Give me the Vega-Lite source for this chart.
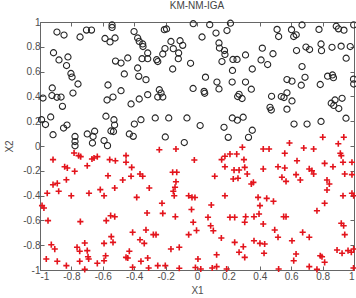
{
  "$schema": "https://vega.github.io/schema/vega-lite/v6.json",
  "width": 314,
  "height": 248,
  "autosize": "none",
  "padding": {"left": 40, "top": 22, "right": 2, "bottom": 28},
  "background": "white",
  "title": {"text": "KM-NM-IGA", "fontSize": 10, "font": "Liberation Sans", "fontWeight": "normal", "color": "#444", "offset": 6, "anchor": "middle"},
  "config": {
    "view": {"stroke": "#666", "strokeWidth": 1},
    "axis": {"grid": false, "domain": false, "tickColor": "#666", "tickSize": -4, "labelFont": "Liberation Sans", "labelFontSize": 10, "labelColor": "#4d4d4d", "titleFont": "Liberation Sans", "titleFontSize": 10, "titleFontWeight": "normal", "titleColor": "#4d4d4d"}
  },
  "datasets": {
    "circles": [
      {"x":-0.892,"y":0.919},{"x":-0.847,"y":0.895},{"x":-0.745,"y":0.879},{"x":-0.704,"y":0.935},{"x":-0.672,"y":0.935},
      {"x":-0.541,"y":0.976},{"x":-0.541,"y":0.956},{"x":-0.586,"y":0.867},{"x":-0.554,"y":0.839},{"x":-0.522,"y":0.871},
      {"x":-0.914,"y":0.752},{"x":-0.879,"y":0.694},{"x":-0.822,"y":0.718},{"x":-0.831,"y":0.649},{"x":-0.803,"y":0.585},
      {"x":-0.796,"y":0.556},{"x":-0.758,"y":0.5},{"x":-0.790,"y":0.427},{"x":-0.519,"y":0.685},{"x":-0.567,"y":0.492},
      {"x":-0.922,"y":0.468},{"x":-0.924,"y":0.407},{"x":-0.892,"y":0.393},{"x":-0.866,"y":0.395},{"x":-0.857,"y":0.320},
      {"x":-0.981,"y":0.387},{"x":-0.573,"y":0.371},{"x":-0.535,"y":0.395},{"x":-0.990,"y":0.212},{"x":-0.965,"y":0.173},
      {"x":-0.932,"y":0.234},{"x":-0.917,"y":0.091},{"x":-0.850,"y":0.145},{"x":-0.828,"y":0.169},{"x":-0.580,"y":0.240},
      {"x":-0.529,"y":0.212},{"x":-0.525,"y":0.169},{"x":-0.548,"y":0.121},{"x":-0.532,"y":0.117},{"x":-0.777,"y":0.077},
      {"x":-0.777,"y":0.036},{"x":-0.777,"y":0.002},{"x":-0.699,"y":0.097},{"x":-0.652,"y":0.119},{"x":-0.662,"y":0.077},
      {"x":-0.666,"y":0.024},{"x":-0.592,"y":0.044},{"x":-0.570,"y":0.003},{"x":-0.401,"y":0.923},{"x":-0.208,"y":0.938},
      {"x":-0.194,"y":0.944},{"x":-0.024,"y":0.986},{"x":-0.378,"y":0.871},{"x":-0.368,"y":0.844},{"x":-0.346,"y":0.823},
      {"x":-0.344,"y":0.802},{"x":-0.314,"y":0.75},{"x":-0.350,"y":0.704},{"x":-0.314,"y":0.704},{"x":-0.257,"y":0.696},
      {"x":-0.250,"y":0.681},{"x":-0.218,"y":0.742},{"x":-0.204,"y":0.786},{"x":-0.166,"y":0.843},{"x":-0.151,"y":0.785},
      {"x":-0.108,"y":0.849},{"x":-0.091,"y":0.812},{"x":-0.117,"y":0.75},{"x":-0.119,"y":0.704},{"x":-0.155,"y":0.621},
      {"x":-0.041,"y":0.667},{"x":-0.484,"y":0.669},{"x":-0.441,"y":0.710},{"x":-0.378,"y":0.629},{"x":-0.463,"y":0.581},
      {"x":-0.371,"y":0.562},{"x":-0.325,"y":0.535},{"x":-0.484,"y":0.446},{"x":-0.420,"y":0.339},{"x":-0.368,"y":0.379},
      {"x":-0.314,"y":0.414},{"x":-0.240,"y":0.454},{"x":-0.229,"y":0.427},{"x":-0.250,"y":0.395},{"x":-0.218,"y":0.395},
      {"x":-0.025,"y":0.464},{"x":-0.266,"y":0.226},{"x":-0.180,"y":0.226},{"x":-0.357,"y":0.212},{"x":-0.399,"y":0.177},
      {"x":-0.064,"y":0.226},{"x":-0.431,"y":0.097},{"x":-0.406,"y":0.078},{"x":-0.202,"y":0.073},{"x":-0.081,"y":0.028},
      {"x":0.081,"y":0.978},{"x":0.213,"y":0.990},{"x":0.032,"y":0.879},{"x":0.121,"y":0.911},{"x":0.191,"y":0.931},
      {"x":0.140,"y":0.831},{"x":0.143,"y":0.790},{"x":0.175,"y":0.770},{"x":0.178,"y":0.738},{"x":0.159,"y":0.681},
      {"x":0.229,"y":0.698},{"x":0.255,"y":0.698},{"x":0.309,"y":0.734},{"x":0.226,"y":0.609},{"x":0.352,"y":0.621},
      {"x":0.416,"y":0.789},{"x":0.408,"y":0.694},{"x":0.450,"y":0.657},{"x":0.484,"y":0.744},{"x":0.054,"y":0.555},
      {"x":0.127,"y":0.516},{"x":0.140,"y":0.460},{"x":0.224,"y":0.516},{"x":0.309,"y":0.516},{"x":0.346,"y":0.458},
      {"x":0.045,"y":0.440},{"x":0.049,"y":0.425},{"x":0.268,"y":0.417},{"x":0.259,"y":0.399},{"x":0.287,"y":0.383},
      {"x":0.475,"y":0.401},{"x":0.465,"y":0.312},{"x":0.473,"y":0.290},{"x":0.225,"y":0.226},{"x":0.257,"y":0.208},
      {"x":0.294,"y":0.232},{"x":0.020,"y":0.165},{"x":0.172,"y":0.151},{"x":0.352,"y":0.127},{"x":0.199,"y":0.070},
      {"x":0.328,"y":0.070},{"x":0.510,"y":0.940},{"x":0.520,"y":0.883},{"x":0.602,"y":0.938},{"x":0.616,"y":0.883},
      {"x":0.632,"y":0.897},{"x":0.669,"y":0.976},{"x":0.777,"y":0.940},{"x":0.887,"y":0.966},{"x":0.901,"y":0.945},
      {"x":0.936,"y":0.934},{"x":0.998,"y":0.977},{"x":0.634,"y":0.770},{"x":0.694,"y":0.798},{"x":0.717,"y":0.778},
      {"x":0.790,"y":0.823},{"x":0.793,"y":0.769},{"x":0.860,"y":0.796},{"x":0.918,"y":0.805},{"x":0.976,"y":0.802},
      {"x":0.950,"y":0.708},{"x":0.669,"y":0.641},{"x":0.573,"y":0.536},{"x":0.605,"y":0.523},{"x":0.688,"y":0.554},
      {"x":0.664,"y":0.490},{"x":0.785,"y":0.496},{"x":0.832,"y":0.563},{"x":0.863,"y":0.573},{"x":0.869,"y":0.551},
      {"x":0.997,"y":0.539},{"x":0.998,"y":0.5},{"x":0.537,"y":0.399},{"x":0.554,"y":0.391},{"x":0.573,"y":0.429},
      {"x":0.605,"y":0.363},{"x":0.573,"y":0.297},{"x":0.855,"y":0.345},{"x":0.879,"y":0.371},{"x":0.871,"y":0.327},
      {"x":0.924,"y":0.385},{"x":0.903,"y":0.302},{"x":0.949,"y":0.224},{"x":0.618,"y":0.177},{"x":0.701,"y":0.177},
      {"x":0.790,"y":0.198}
    ],
    "pluses": [
      {"x":-0.917,"y":-0.110},{"x":-0.843,"y":-0.167},{"x":-0.826,"y":-0.177},{"x":-0.779,"y":-0.204},{"x":-0.783,"y":-0.056},
      {"x":-0.754,"y":-0.078},{"x":-0.741,"y":-0.086},{"x":-0.699,"y":-0.159},{"x":-0.669,"y":-0.105},{"x":-0.656,"y":-0.097},
      {"x":-0.635,"y":-0.086},{"x":-0.556,"y":-0.110},{"x":-0.520,"y":-0.119},{"x":-0.567,"y":-0.240},{"x":-0.832,"y":-0.272},
      {"x":-0.917,"y":-0.312},{"x":-0.890,"y":-0.301},{"x":-0.954,"y":-0.381},{"x":-0.881,"y":-0.365},{"x":-0.801,"y":-0.401},
      {"x":-0.688,"y":-0.381},{"x":-0.616,"y":-0.352},{"x":-0.592,"y":-0.401},{"x":-0.524,"y":-0.339},{"x":-0.987,"y":-0.481},
      {"x":-0.975,"y":-0.5},{"x":-0.949,"y":-0.602},{"x":-0.743,"y":-0.610},{"x":-0.578,"y":-0.602},{"x":-0.550,"y":-0.562},
      {"x":-0.524,"y":-0.570},{"x":-0.928,"y":-0.796},{"x":-0.906,"y":-0.831},{"x":-0.960,"y":-0.911},{"x":-0.890,"y":-0.930},
      {"x":-0.764,"y":-0.817},{"x":-0.747,"y":-0.849},{"x":-0.715,"y":-0.782},{"x":-0.699,"y":-0.844},{"x":-0.694,"y":-0.893},
      {"x":-0.690,"y":-0.911},{"x":-0.747,"y":-0.930},{"x":-0.832,"y":-0.965},{"x":-0.715,"y":-0.995},{"x":-0.635,"y":-0.946},
      {"x":-0.592,"y":-0.785},{"x":-0.546,"y":-0.731},{"x":-0.535,"y":-0.777},{"x":-0.582,"y":-0.885},{"x":-0.592,"y":-0.925},
      {"x":-0.240,"y":-0.030},{"x":-0.134,"y":-0.024},{"x":-0.452,"y":-0.078},{"x":-0.452,"y":-0.131},{"x":-0.416,"y":-0.172},
      {"x":-0.017,"y":-0.113},{"x":-0.473,"y":-0.274},{"x":-0.420,"y":-0.244},{"x":-0.363,"y":-0.226},{"x":-0.346,"y":-0.244},
      {"x":-0.304,"y":-0.339},{"x":-0.155,"y":-0.212},{"x":-0.129,"y":-0.212},{"x":-0.134,"y":-0.288},{"x":-0.140,"y":-0.333},
      {"x":-0.151,"y":-0.365},{"x":-0.145,"y":-0.401},{"x":-0.053,"y":-0.401},{"x":-0.032,"y":-0.414},{"x":-0.013,"y":-0.415},
      {"x":-0.384,"y":-0.414},{"x":-0.223,"y":-0.462},{"x":-0.318,"y":-0.540},{"x":-0.218,"y":-0.543},{"x":-0.138,"y":-0.570},
      {"x":-0.024,"y":-0.615},{"x":-0.410,"y":-0.696},{"x":-0.325,"y":-0.677},{"x":-0.278,"y":-0.715},{"x":-0.261,"y":-0.715},
      {"x":-0.363,"y":-0.756},{"x":-0.336,"y":-0.785},{"x":-0.053,"y":-0.715},{"x":-0.003,"y":-0.681},{"x":-0.431,"y":-0.849},
      {"x":-0.452,"y":-0.898},{"x":-0.441,"y":-0.903},{"x":-0.357,"y":-0.930},{"x":-0.314,"y":-0.903},{"x":-0.166,"y":-0.831},
      {"x":-0.113,"y":-0.817},{"x":-0.250,"y":-0.965},{"x":-0.202,"y":-0.965},{"x":-0.308,"y":-0.984},{"x":-0.410,"y":-0.978},
      {"x":-0.113,"y":-0.986},{"x":-0.035,"y":-0.512},
      {"x":0.289,"y":-0.010},{"x":0.422,"y":-0.024},{"x":0.459,"y":-0.024},{"x":0.157,"y":-0.110},{"x":0.178,"y":-0.083},
      {"x":0.210,"y":-0.065},{"x":0.253,"y":-0.065},{"x":0.299,"y":-0.110},{"x":0.178,"y":-0.167},{"x":0.236,"y":-0.194},
      {"x":0.268,"y":-0.194},{"x":0.304,"y":-0.172},{"x":0.422,"y":-0.185},{"x":0.113,"y":-0.244},{"x":0.320,"y":-0.226},
      {"x":0.231,"y":-0.266},{"x":0.261,"y":-0.260},{"x":0.346,"y":-0.306},{"x":0.359,"y":-0.293},{"x":0.178,"y":-0.401},
      {"x":0.091,"y":-0.476},{"x":0.389,"y":-0.414},{"x":0.444,"y":-0.422},{"x":0.487,"y":-0.446},{"x":0.401,"y":-0.481},
      {"x":0.395,"y":-0.548},{"x":0.070,"y":-0.575},{"x":0.087,"y":-0.643},{"x":0.210,"y":-0.575},{"x":0.240,"y":-0.575},
      {"x":0.310,"y":-0.570},{"x":0.304,"y":-0.615},{"x":0.363,"y":-0.570},{"x":0.422,"y":-0.629},{"x":0.104,"y":-0.683},
      {"x":0.155,"y":-0.742},{"x":0.240,"y":-0.777},{"x":0.295,"y":-0.812},{"x":0.363,"y":-0.764},{"x":0.401,"y":-0.785},
      {"x":0.431,"y":-0.790},{"x":0.268,"y":-0.857},{"x":0.304,"y":-0.898},{"x":0.427,"y":-0.865},{"x":0.125,"y":-0.877},
      {"x":0.006,"y":-0.911},{"x":0.024,"y":-0.992},{"x":0.097,"y":-0.984},{"x":0.125,"y":-0.973},{"x":0.189,"y":-0.992},
      {"x":-0.010,"y":-0.980},
      {"x":0.559,"y":-0.059},{"x":0.680,"y":-0.016},{"x":0.743,"y":-0.024},{"x":0.913,"y":-0.059},{"x":0.919,"y":-0.078},
      {"x":0.637,"y":-0.119},{"x":0.930,"y":-0.131},{"x":0.987,"y":-0.131},{"x":0.516,"y":-0.167},{"x":0.559,"y":-0.177},
      {"x":0.813,"y":-0.140},{"x":0.866,"y":-0.167},{"x":0.631,"y":-0.231},{"x":0.715,"y":-0.185},{"x":0.732,"y":-0.199},
      {"x":0.743,"y":-0.226},{"x":0.541,"y":-0.252},{"x":0.567,"y":-0.285},{"x":0.658,"y":-0.274},{"x":0.941,"y":-0.226},
      {"x":0.987,"y":-0.231},{"x":0.828,"y":-0.274},{"x":0.843,"y":-0.306},{"x":0.828,"y":-0.355},{"x":0.930,"y":-0.401},
      {"x":0.987,"y":-0.381},{"x":0.998,"y":-0.401},{"x":0.813,"y":-0.462},{"x":0.552,"y":-0.570},{"x":0.567,"y":-0.570},
      {"x":0.764,"y":-0.522},{"x":0.495,"y":-0.677},{"x":0.516,"y":-0.736},{"x":0.673,"y":-0.696},{"x":0.715,"y":-0.736},
      {"x":0.605,"y":-0.764},{"x":0.919,"y":-0.623},{"x":0.934,"y":-0.643},{"x":0.941,"y":-0.715},{"x":0.892,"y":-0.839},
      {"x":0.924,"y":-0.865},{"x":0.962,"y":-0.844},{"x":0.983,"y":-0.857},{"x":0.998,"y":-0.831},{"x":0.631,"y":-0.871},
      {"x":0.616,"y":-0.925},{"x":0.785,"y":-0.885},{"x":0.796,"y":-0.893},{"x":0.813,"y":-0.938},{"x":0.520,"y":-0.992},
      {"x":0.715,"y":-0.973},{"x":0.764,"y":-0.995},{"x":0.997,"y":-0.984},
      {"x":0.589,"y":0.024},{"x":0.801,"y":0.071},{"x":0.900,"y":0.018},{"x":0.935,"y":0.071}
    ]
  },
  "layer": [
    {
      "data": {"name": "circles"},
      "mark": {"type": "point", "shape": "circle", "filled": false, "size": 38, "strokeWidth": 1.1, "color": "#262626", "opacity": 1},
      "encoding": {
        "x": {"field": "x", "type": "quantitative", "scale": {"domain": [-1, 1], "nice": false, "zero": false},
              "axis": {"orient": "bottom", "title": "X1", "values": [-1,-0.8,-0.6,-0.4,-0.2,0,0.2,0.4,0.6,0.8,1], "format": "~g", "labelExpr": "replace(datum.label, '\u2212', '-')", "labelPadding": 5, "titlePadding": 4}},
        "y": {"field": "y", "type": "quantitative", "scale": {"domain": [-1, 1], "nice": false, "zero": false},
              "axis": {"orient": "left", "title": "X2", "values": [-1,-0.8,-0.6,-0.4,-0.2,0,0.2,0.4,0.6,0.8,1], "format": "~g", "labelExpr": "replace(datum.label, '\u2212', '-')", "labelPadding": 4, "titlePadding": 8}}
      }
    },
    {
      "data": {"name": "pluses"},
      "mark": {"type": "point", "shape": "M-1,0H1M0,-1V1", "filled": false, "size": 38, "strokeWidth": 1.6, "color": "#e3141c", "opacity": 1},
      "encoding": {
        "x": {"field": "x", "type": "quantitative", "axis": {"orient": "top", "labels": false, "title": null, "values": [-1,-0.8,-0.6,-0.4,-0.2,0,0.2,0.4,0.6,0.8,1]}},
        "y": {"field": "y", "type": "quantitative", "axis": {"orient": "right", "labels": false, "title": null, "values": [-1,-0.8,-0.6,-0.4,-0.2,0,0.2,0.4,0.6,0.8,1]}}
      }
    }
  ],
  "resolve": {"axis": {"x": "independent", "y": "independent"}}
}
